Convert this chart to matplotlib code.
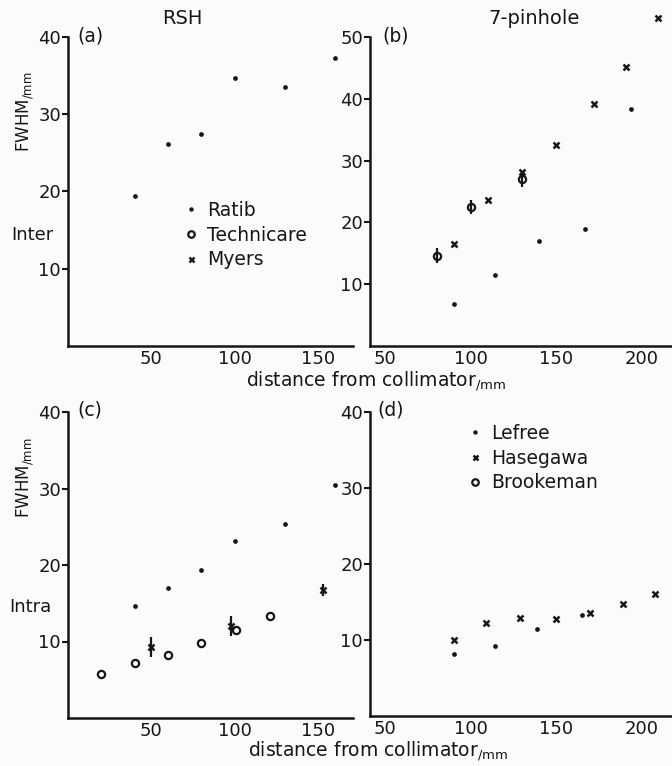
import numpy as np
import matplotlib.pyplot as plt

plt.rcParams['font.family'] = 'DejaVu Sans'
plt.rcParams['mathtext.default'] = 'regular'

# panel (a): RSH, inter
a_ratib_x = [40, 60, 80, 100, 130, 160]
a_ratib_y = [19.4, 26.2, 27.4, 34.7, 33.5, 37.3]

# panel (b): 7-pinhole, inter
b_ratib_x = [90, 114, 140, 167, 194]
b_ratib_y = [6.8, 11.5, 17.0, 19.0, 38.4]
b_tech_x = [80, 100, 130]
b_tech_y = [14.6, 22.5, 27.0]
b_tech_err = [1.2, 1.2, 1.3]
b_myers_x = [90, 110, 130, 150, 172, 191, 210]
b_myers_y = [16.5, 23.7, 28.2, 32.6, 39.2, 45.2, 53.0]

# panel (c): RSH, intra
c_ratib_x = [40, 60, 80, 100, 130, 160]
c_ratib_y = [14.6, 17.0, 19.3, 23.2, 25.3, 30.5]
c_brook_x = [20, 40, 60, 80, 101, 121]
c_brook_y = [5.7, 7.2, 8.2, 9.8, 11.5, 13.3]
c_myers_x = [50, 98, 153]
c_myers_y = [9.3, 12.0, 16.7]
c_myers_err = [1.3, 1.3, 0.8]

# panel (d): 7-pinhole, intra
d_lefree_x = [90, 114, 139, 165]
d_lefree_y = [8.2, 9.2, 11.4, 13.3]
d_hase_x = [90, 109, 129, 150, 170, 189, 208]
d_hase_y = [10.0, 12.2, 12.9, 12.8, 13.5, 14.8, 16.0]

W, H = 672, 766
ink = '#161616'
fig = plt.figure(figsize=(W / 100, H / 100), dpi=100, facecolor='#fbfbf9')


def box(left, top, right, bottom):
    return [left / W, 1 - bottom / H, (right - left) / W, (bottom - top) / H]


def style(ax, xlim, ylim, xticks, yticks):
    ax.set_facecolor('none')
    ax.set_xlim(*xlim)
    ax.set_ylim(*ylim)
    ax.set_xticks(xticks)
    ax.set_yticks(yticks)
    for s in ['top', 'right']:
        ax.spines[s].set_visible(False)
    for s in ['left', 'bottom']:
        ax.spines[s].set_linewidth(1.8)
        ax.spines[s].set_color(ink)
    ax.tick_params(axis='y', length=4, width=1.5, pad=1, labelsize=13, colors=ink)
    ax.tick_params(axis='x', length=0, pad=3, labelsize=13, colors=ink)


dot = dict(ls='none', marker='o', ms=2.4, color=ink, clip_on=False)
cross = dict(ls='none', marker='x', ms=4, mew=1.8, color=ink, clip_on=False)
ring = dict(ls='none', marker='o', ms=5.2, mfc='none', mew=1.6, color=ink, clip_on=False)

axa = fig.add_axes(box(68, 37, 353, 346))
axb = fig.add_axes(box(370, 37, 672, 346))
axc = fig.add_axes(box(68, 412, 353, 718))
axd = fig.add_axes(box(370, 412, 672, 716))

style(axa, (0, 171), (0, 40), [50, 100, 150], [10, 20, 30, 40])
style(axb, (41, 218), (0, 50), [50, 100, 150, 200], [10, 20, 30, 40, 50])
style(axc, (0, 171), (0, 40), [50, 100, 150], [10, 20, 30, 40])
style(axd, (41, 218), (0, 40), [50, 100, 150, 200], [10, 20, 30, 40])

h_ratib, = axa.plot(a_ratib_x, a_ratib_y, **dot)

axb.plot(b_ratib_x, b_ratib_y, **dot)
axb.errorbar(b_tech_x, b_tech_y, yerr=b_tech_err, fmt='none', ecolor=ink,
             elinewidth=1.6, capsize=0)
h_tech, = axb.plot(b_tech_x, b_tech_y, **ring)
h_myers, = axb.plot(b_myers_x, b_myers_y, **cross)

axc.plot(c_ratib_x, c_ratib_y, **dot)
h_brook, = axc.plot(c_brook_x, c_brook_y, **ring)
axc.errorbar(c_myers_x, c_myers_y, yerr=c_myers_err, fmt='none', ecolor=ink,
             elinewidth=1.6, capsize=0)
axc.plot(c_myers_x, c_myers_y, **cross)

h_lefree, = axd.plot(d_lefree_x, d_lefree_y, **dot)
h_hase, = axd.plot(d_hase_x, d_hase_y, **cross)

leg_kw = dict(frameon=False, fontsize=13.5, handlelength=0.8, handletextpad=0.5,
              labelspacing=0.3, borderpad=0, borderaxespad=0, loc='upper left',
              labelcolor=ink, markerscale=0.9)
axa.legend([h_ratib, h_tech, h_myers], ['Ratib', 'Technicare', 'Myers'],
           bbox_to_anchor=((183 - 68) / 285, (346 - 201) / 309), **leg_kw)
axd.legend([h_lefree, h_hase, h_brook], ['Lefree', 'Hasegawa', 'Brookeman'],
           bbox_to_anchor=((467 - 370) / 302, (716 - 424) / 304), **leg_kw)


def ftext(x, y, s, **kw):
    fig.text(x / W, 1 - y / H, s, color=ink, **kw)


ftext(182, 19, 'RSH', fontsize=14, ha='center', va='center')
ftext(534, 18, '7-pinhole', fontsize=14, ha='center', va='center')
for x, y, s in [(77, 36, '(a)'), (382, 36, '(b)'), (77, 410, '(c)'), (377, 410, '(d)')]:
    ftext(x, y, s, fontsize=13.5, ha='left', va='center')
ftext(25, 112, 'FWHM$_{/mm}$', fontsize=12, rotation=90, ha='center', va='center')
ftext(25, 478, 'FWHM$_{/mm}$', fontsize=12, rotation=90, ha='center', va='center')
ftext(32, 235, 'Inter', fontsize=13, ha='center', va='center')
ftext(30, 607, 'Intra', fontsize=13, ha='center', va='center')
ftext(376, 381, 'distance from collimator$_{/mm}$', fontsize=13.5, ha='center', va='center')
ftext(378, 751, 'distance from collimator$_{/mm}$', fontsize=13.5, ha='center', va='center')

fig.savefig('out.png', dpi=100, facecolor=fig.get_facecolor())
